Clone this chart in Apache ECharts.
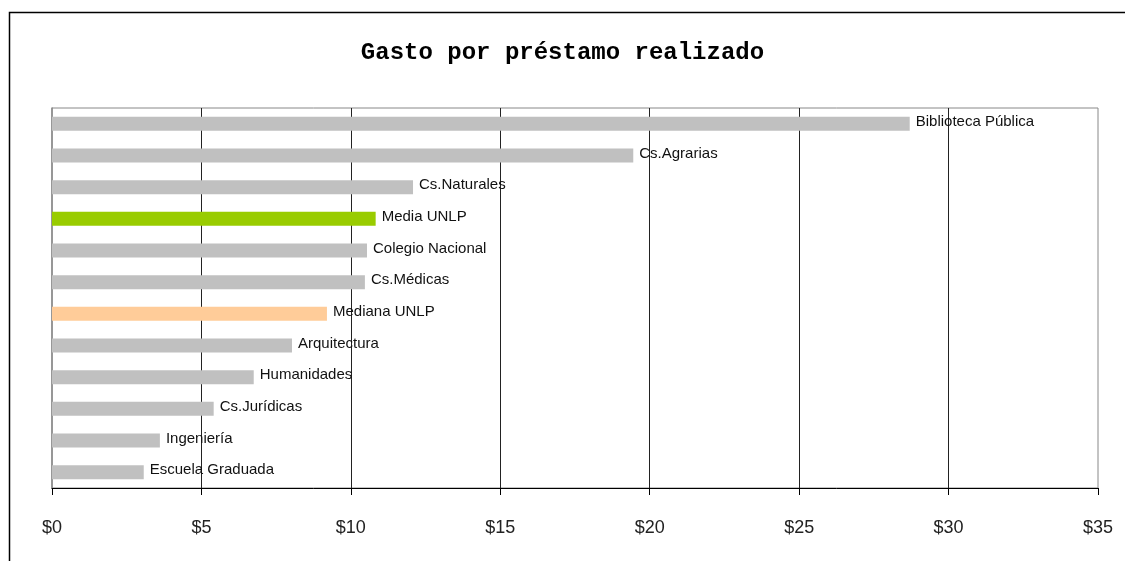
<!DOCTYPE html>
<html>
<head>
<meta charset="utf-8">
<script src="https://cdn.jsdelivr.net/npm/echarts@6/dist/echarts.min.js"></script>
<style>
  html, body { margin: 0; padding: 0; background: #fff; }
  #chart { width: 1125px; height: 561px; }
</style>
</head>
<body>
<div id="chart"></div>
<script>
const categories = [
  'Biblioteca Pública', 'Cs.Agrarias', 'Cs.Naturales', 'Media UNLP',
  'Colegio Nacional', 'Cs.Médicas', 'Mediana UNLP', 'Arquitectura',
  'Humanidades', 'Cs.Jurídicas', 'Ingeniería', 'Escuela Graduada'
];
const gasto = [28.7, 19.45, 12.08, 10.83, 10.54, 10.47, 9.2, 8.03, 6.75, 5.41, 3.61, 3.07];
const xTicks = [0, 5, 10, 15, 20, 25, 30, 35];

// bars that stand out from the gray ones
const highlight = { 'Media UNLP': '#99CC00', 'Mediana UNLP': '#FFCC99' };

const chart = echarts.init(document.getElementById('chart'));

chart.setOption({
  animation: false,
  backgroundColor: '#fff',
  title: {
    text: 'Gasto por préstamo realizado',
    left: 'center',
    top: 36,
    textStyle: {
      fontFamily: 'Liberation Mono',
      fontWeight: 'bold',
      fontSize: 24,
      color: '#000'
    }
  },
  graphic: [{
    type: 'polyline',
    shape: { points: [[9.5, 561], [9.5, 12.5], [1125, 12.5]] },
    style: { stroke: '#000', lineWidth: 1.5, fill: null },
    silent: true
  }],
  grid: {
    left: 52, right: 27, top: 108, bottom: 73,
    show: true, borderColor: '#888', borderWidth: 1
  },
  xAxis: {
    type: 'value',
    min: xTicks[0],
    max: xTicks[xTicks.length - 1],
    interval: 5,
    axisLine: { show: true, lineStyle: { color: '#000', width: 1 } },
    axisTick: { show: true, length: 7, lineStyle: { color: '#000' } },
    axisLabel: {
      margin: 31,
      fontFamily: 'Liberation Sans',
      fontSize: 18,
      color: '#222',
      formatter: v => '$' + v
    },
    splitLine: {
      show: true,
      showMinLine: false,
      showMaxLine: false,
      lineStyle: { color: '#222', width: 1 }
    }
  },
  yAxis: {
    type: 'category',
    data: categories,
    inverse: true,
    axisLine: { show: true, lineStyle: { color: '#888', width: 1.5 } },
    axisTick: { show: false },
    axisLabel: { show: false },
    splitLine: { show: false }
  },
  series: [{
    type: 'bar',
    barWidth: 14,
    data: gasto.map((v, i) => ({
      value: v,
      itemStyle: { color: highlight[categories[i]] || '#C0C0C0' }
    })),
    label: {
      show: true,
      position: 'right',
      distance: 6,
      offset: [0, -2],
      fontFamily: 'Liberation Sans',
      fontSize: 15,
      color: '#111',
      formatter: p => categories[p.dataIndex]
    }
  }]
});
</script>
</body>
</html>
